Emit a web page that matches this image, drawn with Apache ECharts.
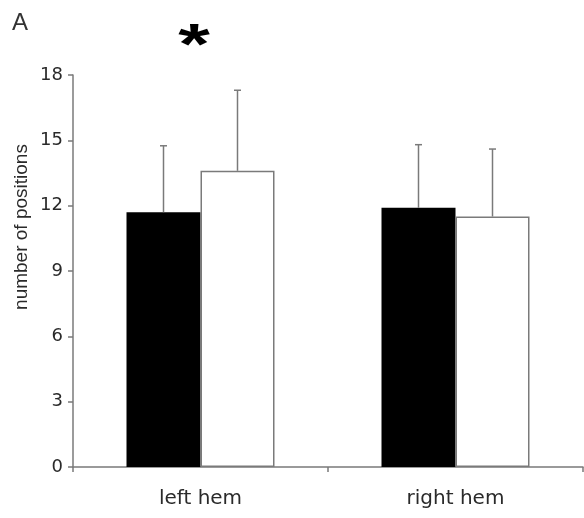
<!DOCTYPE html>
<html>
<head>
<meta charset="utf-8">
<script src="https://cdn.jsdelivr.net/npm/echarts@6/dist/echarts.min.js"></script>
<style>
html,body{margin:0;padding:0;background:#fff;}
#chart{width:584px;height:518px;}
</style>
</head>
<body>
<div id="chart"></div>
<script>
const categories = ['left hem', 'right hem'];
const blackValues = [11.7, 11.9];
const whiteValues = [13.6, 11.5];
const blackErrors = [3.05, 2.9];
const whiteErrors = [3.7, 3.1];
const yMin = 0, yMax = 18, yStep = 3;
const panelLabel = 'A';
const significanceMark = '*';
const yAxisTitle = 'number of positions';

const BAR_W = 74;
const GRAY = '#7a7a7a';

function errorSeries(values, errors, offset) {
  return {
    type: 'custom',
    z: 5,
    data: categories.map((c, i) => [i, values[i], errors[i]]),
    renderItem: function (params, api) {
      const ci = api.value(0);
      const x = api.coord([ci, 0])[0] + offset;
      const y0 = api.coord([ci, api.value(1)])[1];
      const y1 = api.coord([ci, api.value(1) + api.value(2)])[1];
      const st = { stroke: GRAY, lineWidth: 1.5 };
      return {
        type: 'group',
        children: [
          { type: 'line', shape: { x1: x, y1: y0, x2: x, y2: y1 }, style: st },
          { type: 'line', shape: { x1: x - 3.5, y1: y1, x2: x + 3.5, y2: y1 }, style: st }
        ]
      };
    }
  };
}

const chart = echarts.init(document.getElementById('chart'), null, { renderer: 'canvas' });
chart.setOption({
  animation: false,
  backgroundColor: '#ffffff',
  grid: { left: 73, right: 1, top: 75, bottom: 51, containLabel: false },
  xAxis: {
    type: 'category',
    data: categories,
    axisLine: { lineStyle: { color: GRAY, width: 1.5 } },
    axisTick: { show: true, length: 5, lineStyle: { color: GRAY, width: 1.5 } },
    axisLabel: { margin: 22, fontFamily: 'DejaVu Sans', fontSize: 20, color: '#2a2a2a' },
    splitLine: { show: false }
  },
  yAxis: {
    type: 'value',
    min: yMin, max: yMax, interval: yStep,
    axisLine: { show: true, lineStyle: { color: GRAY, width: 1.5 } },
    axisTick: { show: true, length: 5, lineStyle: { color: GRAY, width: 1.5 } },
    axisLabel: { margin: 10, fontFamily: 'DejaVu Sans', fontSize: 18, color: '#2a2a2a' },
    splitLine: { show: false }
  },
  series: [
    {
      type: 'bar', data: blackValues, barWidth: BAR_W, barGap: '0%',
      itemStyle: { color: '#000000' }
    },
    {
      type: 'bar', data: whiteValues, barWidth: BAR_W, barGap: '0%',
      itemStyle: { color: '#ffffff', borderColor: GRAY, borderWidth: 1.5 }
    },
    errorSeries(blackValues, blackErrors, -BAR_W / 2),
    errorSeries(whiteValues, whiteErrors, BAR_W / 2)
  ],
  graphic: [
    {
      type: 'text', left: 12, top: 11,
      style: { text: panelLabel, font: '24px "Liberation Sans"', fill: '#333' }
    },
    {
      type: 'text', x: 194, y: 48,
      scaleX: 1.4,
      style: { text: significanceMark, font: 'bold 58px "Liberation Sans"', fill: '#000', align: 'center', verticalAlign: 'middle' }
    },
    {
      type: 'text', x: 22, y: 227, rotation: Math.PI / 2,
      style: { text: yAxisTitle, font: '19px "Liberation Sans"', fill: '#2a2a2a', align: 'center', verticalAlign: 'middle' }
    }
  ]
});
</script>
</body>
</html>
